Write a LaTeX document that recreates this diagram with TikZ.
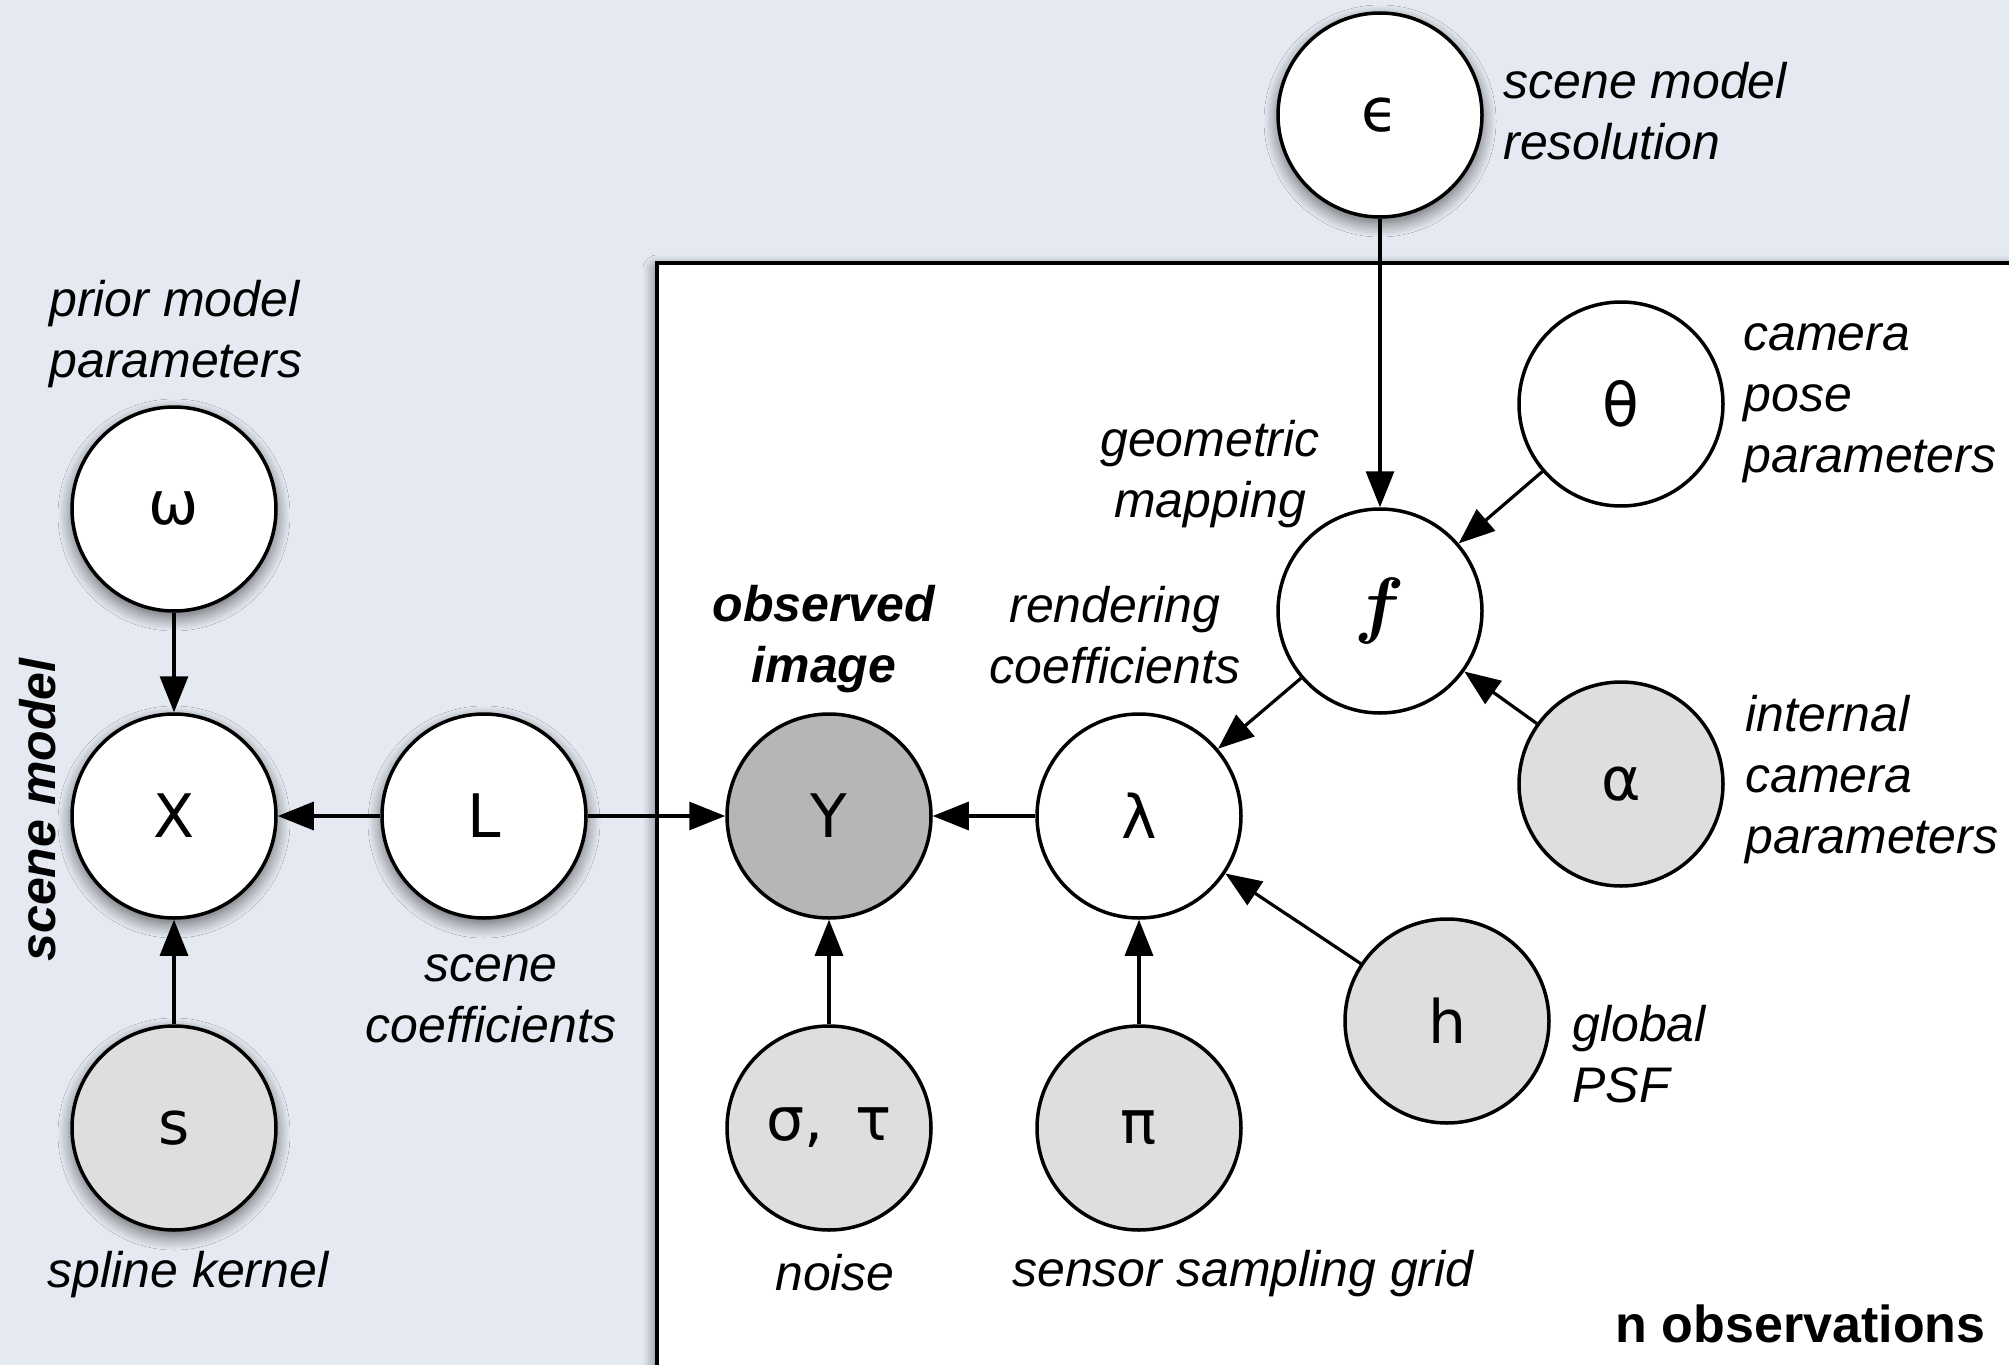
\documentclass[tikz,border=0pt]{standalone}
\usepackage{fix-cm}
\usepackage{fontspec}
\setmainfont{Liberation Sans}
\newfontfamily\symfont{DejaVu Sans}
\usetikzlibrary{arrows.meta,shadows.blur}

\definecolor{paper}{RGB}{229,234,242}
\definecolor{fixedgray}{RGB}{222,222,222}
\definecolor{obsgray}{RGB}{182,182,182}

\begin{document}
\begin{tikzpicture}[x=0.5pt,y=-0.5pt,
  var/.style={circle, draw=black, line width=1.75pt, minimum size=102pt,
    inner sep=0pt, fill=white, font=\fontsize{30}{36}\selectfont\symfont},
  given/.style={var, fill=fixedgray},
  observed/.style={var, fill=obsgray},
  shadowed/.style={blur shadow={shadow xshift=0pt, shadow yshift=-3pt,
    shadow blur radius=7pt, shadow blur steps=12, shadow opacity=60}},
  lbl/.style={font=\fontsize{25}{30.5}\selectfont\itshape, align=left, inner sep=0pt},
  lblc/.style={lbl, align=center},
  edge/.style={draw=black, line width=1.6pt, -{Triangle[length=18pt,width=14pt]}},
]
% paper background and page frame
\fill[paper] (0,0) rectangle (2009,1365);
\useasboundingbox (0,0) rectangle (2009,1365);
\clip (0,0) rectangle (2009,1365);

% plate for the n observations
\draw[line width=2pt, fill=white, shadowed] (657,263) rectangle (2120,1480);
\node[font=\fontsize{26}{30}\selectfont\bfseries, anchor=east, inner sep=0pt] (nobs) at (1986,1324) {n observations};

% scene model variables (outside the plate)
\node[var, shadowed] (eps) at (1380,115) {ϵ};
\node[var, shadowed] (omega) at (174,509) {ω};
\node[var, shadowed] (X) at (174,816) {X};
\node[var, shadowed] (L) at (484,816) {L};
\node[given, shadowed] (s) at (174,1128) {s};

% per-observation variables
\node[observed] (Y) at (829,816) {Y};
\node[var] (lambda) at (1139,816) {λ};
\node[var, font=\fontsize{37}{42}\selectfont\boldmath] (f) at (1380,611) {$f$};
\node[var] (theta) at (1621,404) {θ};
\node[given] (alpha) at (1621,784) {α};
\node[given] (h) at (1447,1021) {h};
\node[given] (st) at (829,1128) {σ,\hspace{6pt} τ};
\node[given] (pi) at (1139,1128) {π};

% labels
\node[lbl, anchor=west] (lres) at (1503,111) {scene model\\resolution};
\node[lbl, anchor=west] (lprior) at (49,334) {prior model\\parameters};
\node[lbl, font=\fontsize{25}{30.5}\selectfont\bfseries\itshape, rotate=90] (lscene) at (38,810) {scene model};
\node[lbl] (lspline) at (188,1275) {spline kernel};
\node[lblc] (lcoef) at (491,999) {scene\\coefficients};
\node[lblc, font=\fontsize{25}{30.5}\selectfont\bfseries\itshape] (lobs) at (824,639) {observed\\image};
\node[lblc] (lrend) at (1115,635) {rendering\\coefficients};
\node[lblc] (lgeom) at (1210,474) {geometric\\mapping};
\node[lbl, anchor=west] (lpose) at (1743,403) {camera\\pose\\parameters};
\node[lbl, anchor=west] (lint) at (1745,780) {internal\\camera\\parameters};
\node[lbl, anchor=west] (lpsf) at (1572,1054) {global\\PSF};
\node[lbl] (lnoise) at (835,1273) {noise};
\node[lbl] (lgrid) at (1243,1274) {sensor sampling grid};

% dependencies
\draw[edge] (eps) -- (f);
\draw[edge] (theta) -- (f);
\draw[edge] (alpha) -- (f);
\draw[edge] (f) -- (lambda);
\draw[edge] (h) -- (lambda);
\draw[edge] (pi) -- (lambda);
\draw[edge] (lambda) -- (Y);
\draw[edge] (st) -- (Y);
\draw[edge] (L) -- (Y);
\draw[edge] (L) -- (X);
\draw[edge] (omega) -- (X);
\draw[edge] (s) -- (X);
\end{tikzpicture}
\end{document}
